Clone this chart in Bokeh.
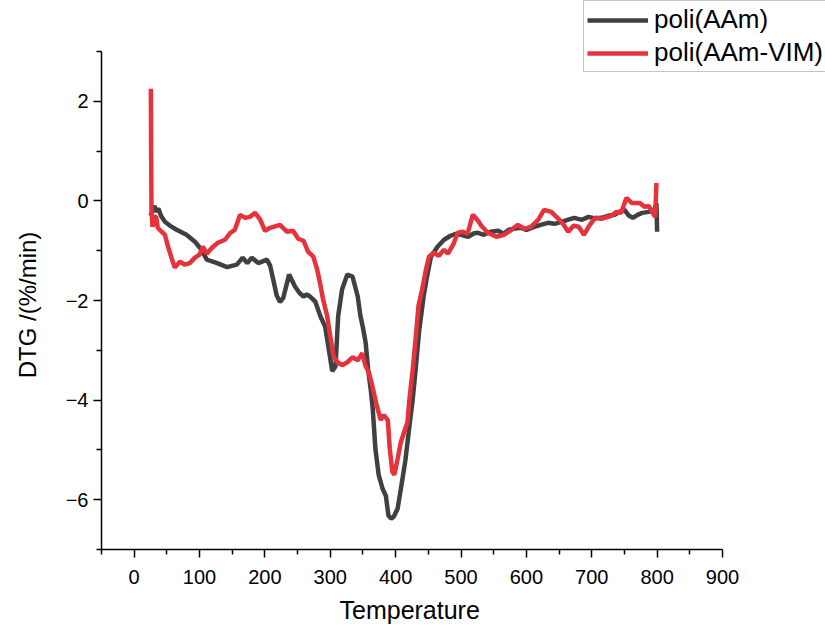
from bokeh.plotting import figure
from bokeh.models import Range1d, FixedTicker, Legend, LegendItem, Title
from bokeh.embed import file_html
from bokeh.resources import INLINE

# ---- data ----
temp_aam = [25, 28, 31, 34, 37, 41, 47, 55, 65, 80, 93, 103, 111, 127, 142, 157, 166, 173, 180,
            190, 203, 208, 213, 218, 223, 228, 237, 246, 253, 259, 264, 269, 277, 285, 292, 297,
            303, 308, 312, 318, 326, 334, 342, 346, 350, 354, 358, 362, 365, 369, 374, 380, 385,
            389, 393, 397, 403, 408, 415, 420, 426, 431, 436, 440, 443, 448, 454, 464, 474, 484,
            492, 500, 511, 520, 526, 535, 545, 557, 565, 573, 585, 592, 600, 612, 622, 633, 643,
            654, 663, 673, 685, 695, 705, 715, 725, 735, 742, 750, 757, 763, 770, 777, 787, 795,
            799, 800]
dtg_aam = [-0.3, -0.2, -0.1, -0.22, -0.15, -0.3, -0.42, -0.5, -0.58, -0.68, -0.82, -0.98, -1.18,
           -1.25, -1.33, -1.28, -1.14, -1.25, -1.14, -1.25, -1.18, -1.3, -1.6, -1.9, -2.03, -1.95,
           -1.48, -1.72, -1.85, -1.92, -1.88, -1.92, -2.02, -2.32, -2.52, -2.92, -3.42, -3.32,
           -2.32, -1.78, -1.48, -1.52, -1.92, -2.3, -2.55, -2.84, -3.4, -3.8, -4.18, -4.98, -5.5,
           -5.78, -5.92, -6.32, -6.38, -6.34, -6.18, -5.78, -5.2, -4.64, -4.0, -3.32, -2.6, -2.2,
           -1.9, -1.52, -1.12, -0.92, -0.78, -0.7, -0.66, -0.68, -0.72, -0.65, -0.64, -0.68,
           -0.62, -0.6, -0.66, -0.58, -0.55, -0.54, -0.58, -0.52, -0.48, -0.44, -0.46, -0.42,
           -0.38, -0.34, -0.38, -0.32, -0.35, -0.34, -0.3, -0.28, -0.22, -0.18, -0.3, -0.34,
           -0.28, -0.24, -0.22, -0.2, -0.05, -0.62]

temp_vim = [25.5, 26, 26.5, 28, 31, 34, 36, 42, 47, 51, 57, 62, 70, 77, 85, 93, 100, 105, 111,
            119, 128, 139, 147, 154, 162, 170, 177, 185, 193, 200, 208, 223, 234, 243, 251, 259,
            266, 274, 280, 285, 289, 295, 300, 305, 311, 318, 326, 334, 342, 349, 354, 359, 364,
            370, 377, 382, 388, 391, 395, 398, 403, 408, 413, 418, 421, 426, 431, 435, 441, 446,
            451, 458, 466, 474, 480, 488, 495, 503, 510, 518, 526, 531, 541, 554, 566, 577, 587,
            597, 607, 618, 627, 638, 649, 656, 664, 672, 680, 688, 696, 705, 715, 730, 738, 745,
            753, 761, 773, 781, 787, 793, 797, 799]
dtg_vim = [2.25, 0.8, -0.2, -0.52, -0.3, -0.34, -0.54, -0.62, -0.68, -0.88, -1.14, -1.34, -1.22,
           -1.28, -1.25, -1.14, -1.08, -0.92, -1.06, -0.94, -0.84, -0.78, -0.64, -0.58, -0.28,
           -0.34, -0.32, -0.24, -0.38, -0.6, -0.54, -0.48, -0.62, -0.6, -0.76, -0.8, -1.02,
           -1.12, -1.38, -1.7, -1.98, -2.3, -2.72, -3.12, -3.24, -3.3, -3.24, -3.14, -3.2, -3.06,
           -3.32, -3.44, -3.7, -4.05, -4.4, -4.3, -4.4, -4.98, -5.44, -5.5, -5.18, -4.84, -4.64,
           -4.45, -4.0, -3.4, -2.7, -2.1, -1.75, -1.4, -1.12, -1.04, -1.1, -0.98, -1.06, -0.88,
           -0.64, -0.62, -0.66, -0.28, -0.4, -0.5, -0.64, -0.72, -0.68, -0.58, -0.48, -0.56,
           -0.52, -0.38, -0.18, -0.22, -0.36, -0.46, -0.62, -0.5, -0.52, -0.68, -0.5, -0.34,
           -0.36, -0.3, -0.22, -0.24, 0.06, -0.04, -0.04, -0.12, -0.1, -0.24, -0.32, 0.36]

series_names = ["poli(AAm)", "poli(AAm-VIM)"]
x_ticks = [0, 100, 200, 300, 400, 500, 600, 700, 800, 900]
x_minor = [-50, 50, 150, 250, 350, 450, 550, 650, 750, 850]
y_ticks = [-6, -4, -2, 0, 2]
y_tick_labels = ["\u22126", "\u22124", "\u22122", "0", "2"]
y_minor = [-7, -5, -3, -1, 1, 3]
x_label = "Temperature"
y_label = "DTG /(%/min)"

FONT = "Liberation Sans"

# axis extents: x axis from -50 to 900 over 621 px, y axis from -7 to 3 over 498 px;
# the frame extends further (to the window's right and top) so the legend fits inside it.
X_LO, X_HI = -50, 900
Y_LO, Y_HI = -7, 3
px_x = 621 / (X_HI - X_LO)
px_y = 498 / (Y_HI - Y_LO)
x_end = X_LO + 724 / px_x
y_end = Y_LO + 549 / px_y

p = figure(width=825, height=637, output_backend="svg", toolbar_location=None,
           x_range=Range1d(X_LO, x_end), y_range=Range1d(Y_LO, y_end))
p.min_border_left = 101
p.min_border_right = 0
p.min_border_top = 0
p.min_border_bottom = 88
p.outline_line_color = None
p.grid.visible = False
p.background_fill_color = "white"
p.border_fill_color = "white"

r1 = p.line(temp_aam, dtg_aam, line_color="#404040", line_width=4.5)
r2 = p.line(temp_vim, dtg_vim, line_color="#E5323B", line_width=4.5)

for ax in (p.xaxis[0], p.yaxis[0]):
    ax.axis_line_width = 1.5
    ax.axis_line_color = "black"
    ax.major_tick_line_color = "black"
    ax.minor_tick_line_color = "black"
    ax.major_tick_line_width = 1.5
    ax.minor_tick_line_width = 1.5
    ax.major_tick_in = 0
    ax.major_tick_out = 8
    ax.minor_tick_in = 0
    ax.minor_tick_out = 5
    ax.major_label_text_font = FONT
    ax.major_label_text_font_size = "20px"
    ax.major_label_text_color = "black"
    ax.axis_label_text_font = FONT
    ax.axis_label_text_font_style = "normal"
    ax.axis_label_text_color = "black"

p.xaxis[0].bounds = (X_LO, X_HI)
p.yaxis[0].bounds = (Y_LO, Y_HI)
p.xaxis[0].ticker = FixedTicker(ticks=x_ticks, minor_ticks=x_minor)
p.yaxis[0].ticker = FixedTicker(ticks=y_ticks, minor_ticks=y_minor)
p.yaxis[0].major_label_overrides = {t: l for t, l in zip(y_ticks, y_tick_labels)}
p.xaxis[0].major_label_standoff = 12
p.yaxis[0].major_label_standoff = 5

# y axis title: the axis label is centred on the full frame height, so it is padded
# with no-break spaces at its (upper) end to sit at the middle of the drawn axis
p.yaxis[0].axis_label = y_label + "\u00a0" * 9
p.yaxis[0].axis_label_text_font_size = "24px"
p.yaxis[0].axis_label_standoff = 22

# x axis title, positioned along the drawn axis extent
x_title = Title(text=x_label, align="left", offset=238, vertical_align="middle",
                standoff=17, text_font=FONT, text_font_size="25px",
                text_font_style="normal", text_color="black")
p.add_layout(x_title, "below")

legend = Legend(items=[LegendItem(label=series_names[0], renderers=[r1]),
                       LegendItem(label=series_names[1], renderers=[r2])],
                location=(482, 477))
legend.label_text_font = FONT
legend.label_text_font_size = "26px"
legend.label_text_color = "black"
legend.label_height = 26
legend.glyph_height = 26
legend.glyph_width = 61
legend.label_standoff = 6
legend.spacing = 2
legend.padding = 3
legend.margin = 0
legend.border_line_color = "#8a8a8a"
legend.border_line_width = 1
legend.background_fill_color = "white"
legend.background_fill_alpha = 1
p.add_layout(legend, "center")

open("out.html", "w").write(file_html(p, INLINE))
